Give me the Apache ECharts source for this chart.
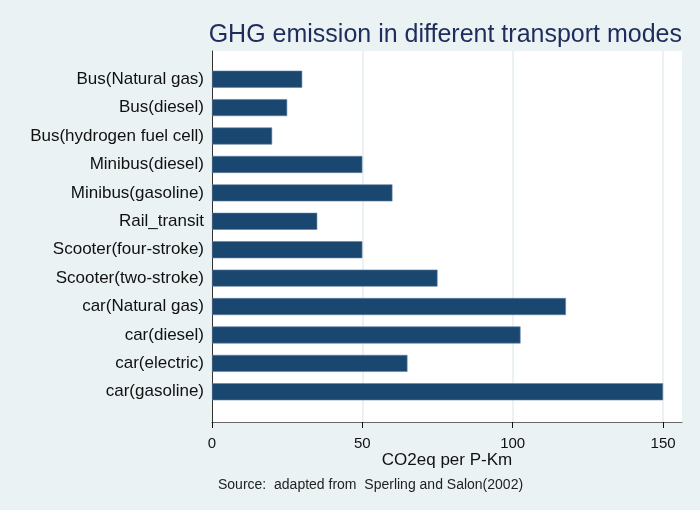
<!DOCTYPE html>
<html>
<head>
<meta charset="utf-8">
<script src="https://cdn.jsdelivr.net/npm/echarts@6/dist/echarts.min.js"></script>
<style>html,body{margin:0;padding:0;background:#eaf2f3;}#c{width:700px;height:510px;}</style>
</head>
<body>
<div id="c"></div>
<script>
const categories = ['Bus(Natural gas)','Bus(diesel)','Bus(hydrogen fuel cell)','Minibus(diesel)','Minibus(gasoline)','Rail_transit','Scooter(four-stroke)','Scooter(two-stroke)','car(Natural gas)','car(diesel)','car(electric)','car(gasoline)'];
const values = [30, 25, 20, 50, 60, 35, 50, 75, 117.7, 102.6, 65, 150];
const xTicks = [0, 50, 100, 150];
const titleText = 'GHG emission in different transport modes';
const xName = 'CO2eq per P-Km';
const noteText = 'Source:  adapted from  Sperling and Salon(2002)';

const FONT = '"Liberation Sans", Arial, sans-serif';
const XMAX = 156.3;
const chart = echarts.init(document.getElementById('c'), null, {renderer: 'canvas'});
chart.setOption({
  backgroundColor: '#eaf2f3',
  animation: false,
  title: [
    {text: titleText, right: 13, top: 18, textStyle: {fontFamily: FONT, fontSize: 25, fontWeight: 'normal', color: '#1e2d5c'}},
    {text: noteText, left: 213, top: 473, textStyle: {fontFamily: FONT, fontSize: 14, fontWeight: 'normal', color: '#222'}}
  ],
  grid: [
    {left: 212, right: 18, top: 51, bottom: 88, show: true, backgroundColor: '#ffffff', borderWidth: 0, containLabel: false},
    {left: 212, right: 18, top: 65, bottom: 104, containLabel: false}
  ],
  xAxis: [
    {gridIndex: 0, type: 'value', min: 0, max: XMAX, interval: 50,
     axisLine: {show: true, lineStyle: {color: '#666', width: 1}},
     axisTick: {show: true, length: 6, customValues: xTicks, lineStyle: {color: '#111'}},
     axisLabel: {customValues: xTicks, fontFamily: FONT, fontSize: 15, color: '#111', margin: 14},
     splitLine: {show: true, lineStyle: {color: '#eaf2f3', width: 2}},
     name: xName, nameLocation: 'middle', nameGap: 30, nameMoveOverlap: false,
     nameTextStyle: {fontFamily: FONT, fontSize: 17, color: '#111'}},
    {gridIndex: 1, type: 'value', min: 0, max: XMAX, show: false}
  ],
  yAxis: [
    {gridIndex: 0, type: 'value', min: 0, max: 1,
     axisLine: {show: true, lineStyle: {color: '#333', width: 1}},
     axisTick: {show: false}, axisLabel: {show: false}, splitLine: {show: false}},
    {gridIndex: 1, type: 'category', data: categories, inverse: true,
     axisLine: {show: false}, axisTick: {show: false},
     axisLabel: {fontFamily: FONT, fontSize: 17, color: '#111', margin: 8}}
  ],
  series: [{
    type: 'bar', xAxisIndex: 1, yAxisIndex: 1, data: values,
    barWidth: 17,
    itemStyle: {color: '#1a476f', borderColor: '#5f82a3', borderWidth: 0.6}
  }]
});
</script>
</body>
</html>
